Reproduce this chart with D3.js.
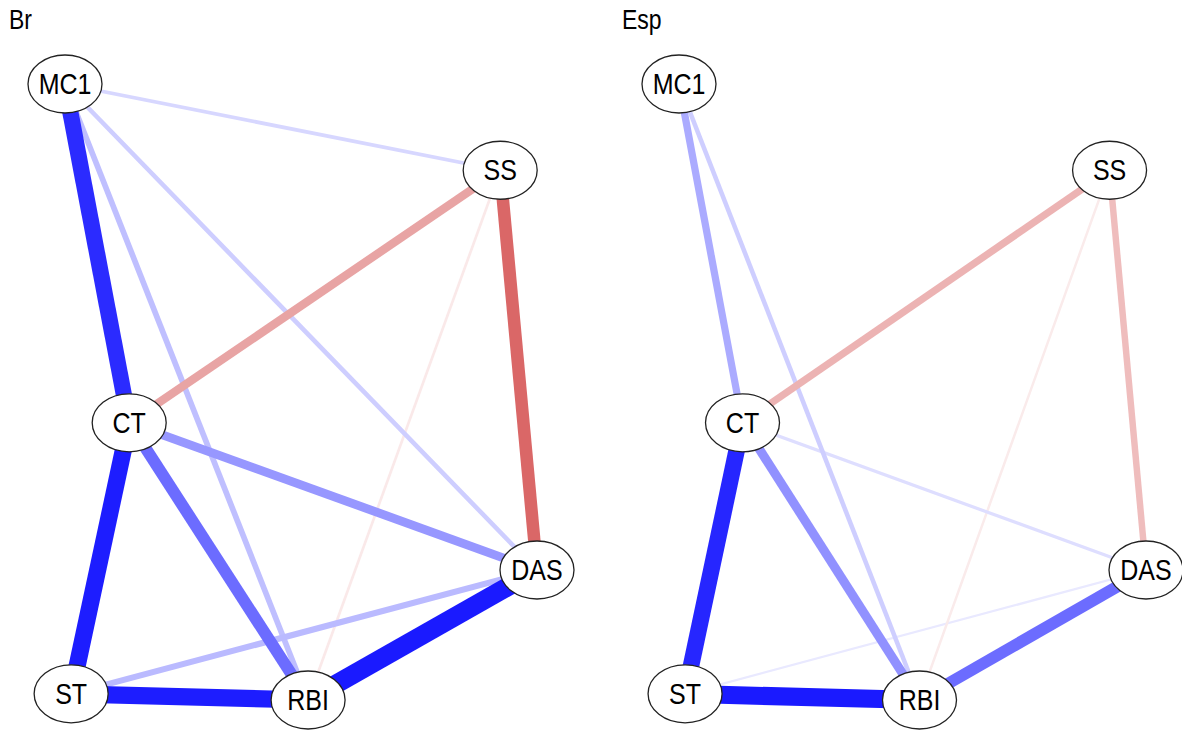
<!DOCTYPE html>
<html>
<head>
<meta charset="utf-8">
<script src="https://cdn.jsdelivr.net/npm/d3@7"></script>
<style>
  body { margin: 0; background: #fff; }
  text { font-family: Arial, "Liberation Sans", sans-serif; fill: #000; }
</style>
</head>
<body>
<div id="container"></div>
<script>
// Network data (shared layout, two groups)
var nodeNames = ['MC1', 'SS', 'CT', 'DAS', 'ST', 'RBI'];
var layoutX = [0, 0.922, 0.136, 1, 0.013, 0.515];
var layoutY = [0, 0.140, 0.550, 0.789, 0.990, 1];

var edgeFrom = ['MC1', 'MC1', 'MC1', 'MC1', 'SS', 'SS', 'SS', 'CT', 'CT', 'CT', 'ST', 'ST', 'RBI'];
var edgeTo   = ['CT', 'SS', 'RBI', 'DAS', 'CT', 'DAS', 'RBI', 'DAS', 'ST', 'RBI', 'RBI', 'DAS', 'DAS'];

var weightsBr  = [0.85, 0.20, 0.30, 0.24, -0.44, -0.66, -0.14, 0.46, 0.90, 0.62, 0.90, 0.32, 1.00];
var weightsEsp = [0.38, 0, 0.24, 0, -0.38, -0.34, -0.13, 0.17, 0.87, 0.48, 0.95, 0.12, 0.62];

var panelTitles = ['Br', 'Esp'];
var panelWeights = [weightsBr, weightsEsp];

var WIDTH = 1182,
    HEIGHT = 731;

var svg = d3.select('#container')
    .append('svg')
    .attr('width', WIDTH)
    .attr('height', HEIGHT);

var xRanges = [[65, 537], [679, 1146]];
var yScale = d3.scaleLinear().domain([0, 1]).range([84, 700]);

var widthScale = d3.scaleLinear().domain([0, 1]).range([0, 19]);
var posColor = d3.interpolateRgb('#ffffff', '#0000ff');
var negColor = d3.interpolateRgb('#ffffff', '#c00000');

var drawPanel = function(p) {
    var xScale = d3.scaleLinear().domain([0, 1]).range(xRanges[p]);
    var g = svg.append('g');

    var pos = {};
    nodeNames.forEach(function(n, i) {
        pos[n] = { x: xScale(layoutX[i]), y: yScale(layoutY[i]) };
    });

    var edges = edgeFrom.map(function(f, i) {
        return { from: f, to: edgeTo[i], w: panelWeights[p][i] };
    }).filter(function(e) { return e.w !== 0; });

    // weakest first so strong edges are on top
    edges.sort(function(a, b) { return Math.abs(a.w) - Math.abs(b.w); });

    g.selectAll('.edge')
        .data(edges)
        .enter()
        .append('line')
        .attr('class', 'edge')
        .attr('x1', function(d) { return pos[d.from].x; })
        .attr('y1', function(d) { return pos[d.from].y; })
        .attr('x2', function(d) { return pos[d.to].x; })
        .attr('y2', function(d) { return pos[d.to].y; })
        .attr('stroke-width', function(d) { return Math.max(1.5, widthScale(Math.abs(d.w))); })
        .attr('stroke', function(d) {
            if (d.w > 0) {
                return posColor(Math.min(0.9, Math.pow(d.w, 1.15)));
            }
            return negColor(Math.min(0.9, Math.pow(-d.w, 1.25)));
        });

    var nodes = g.selectAll('.node')
        .data(nodeNames)
        .enter()
        .append('g')
        .attr('class', 'node')
        .attr('transform', function(d) { return 'translate(' + pos[d].x + ',' + pos[d].y + ')'; });

    nodes.append('ellipse')
        .attr('rx', 37)
        .attr('ry', 29)
        .attr('fill', '#fff')
        .attr('stroke', '#222')
        .attr('stroke-width', 1.3);

    nodes.append('text')
        .attr('text-anchor', 'middle')
        .attr('dominant-baseline', 'central')
        .attr('transform', 'scale(1,1.18)')
        .attr('font-size', 25)
        .text(function(d) { return d; });

    svg.append('text')
        .attr('transform', 'translate(' + (p === 0 ? 9 : 622) + ',29) scale(1,1.18)')
        .attr('font-size', 23)
        .text(panelTitles[p]);
};

drawPanel(0);
drawPanel(1);
</script>
</body>
</html>
